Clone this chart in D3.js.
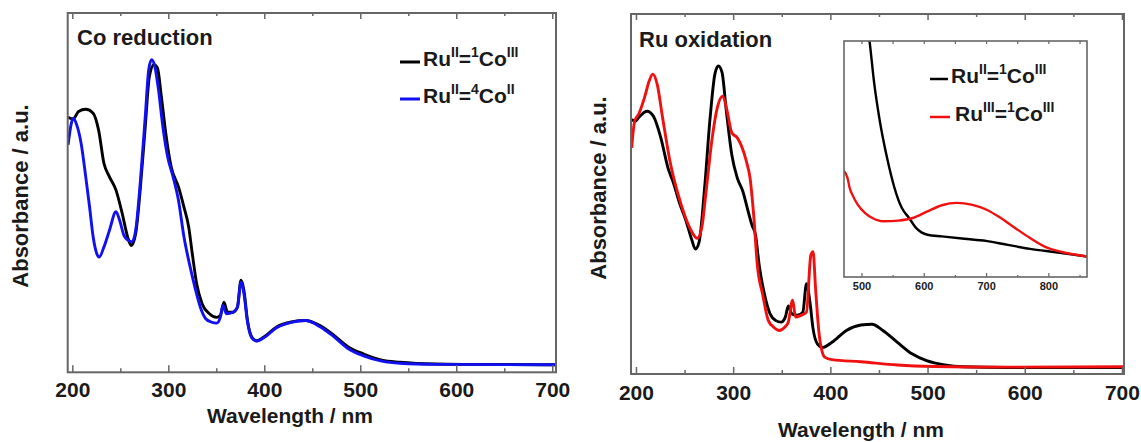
<!DOCTYPE html>
<html>
<head>
<meta charset="utf-8">
<script src="https://cdn.jsdelivr.net/npm/d3@7"></script>
<style>
  body { margin: 0; background: #fff; }
  svg { display: block; font-family: "Liberation Sans", Arial, sans-serif; font-weight: bold; }
</style>
</head>
<body>
<svg id="chart" width="1141" height="442"></svg>
<script>
// absorbance (a.u., normalised to frame height) vs wavelength (nm)
var coBlack = [[195.6,0.710],[200.9,0.705],[206.5,0.726],[214,0.732],[221.7,0.721],[227.4,0.674],[233,0.581],[238.7,0.544],[245.5,0.507],[252,0.442],[257.6,0.377],[261.4,0.353],[266,0.386],[271,0.516],[276,0.684],[280.3,0.823],[285,0.856],[288.7,0.847],[292.8,0.767],[297.4,0.665],[303,0.572],[310.6,0.516],[316.3,0.460],[321.2,0.405],[325,0.330],[329.5,0.247],[335.2,0.191],[342.8,0.163],[350.4,0.153],[354.2,0.158],[358,0.195],[361.7,0.167],[367.4,0.167],[372,0.181],[375.7,0.256],[378.8,0.228],[382.5,0.144],[387,0.098],[392,0.088],[399.5,0.098],[412.8,0.126],[428,0.140],[443,0.144],[458,0.130],[473,0.102],[488,0.070],[503.5,0.051],[522.5,0.034],[541.4,0.028],[579,0.023],[617,0.022],[704,0.021]]
var coBlue = [[195.6,0.633],[199,0.693],[200.9,0.707],[204.7,0.688],[209.2,0.637],[214,0.544],[218,0.460],[221.7,0.377],[225.5,0.330],[228,0.321],[233,0.349],[238.7,0.395],[245.5,0.447],[249.3,0.423],[253.8,0.381],[258.4,0.367],[262.2,0.363],[266,0.395],[271,0.535],[276,0.712],[279.6,0.842],[282.6,0.870],[286,0.851],[289.8,0.786],[294.3,0.684],[299.3,0.600],[305,0.544],[310.6,0.479],[316.3,0.377],[322,0.302],[327.7,0.237],[333.4,0.181],[339,0.149],[344.7,0.140],[350.4,0.137],[354.2,0.153],[356.8,0.186],[360.6,0.163],[367.4,0.167],[372,0.181],[375.7,0.251],[378.8,0.219],[382.5,0.140],[387,0.096],[392,0.087],[399.5,0.096],[412.8,0.124],[428,0.139],[443,0.144],[458,0.127],[473,0.098],[488,0.065],[503.5,0.046],[522.5,0.031],[541.4,0.025],[579,0.022],[704,0.021]]

var ruBlack = [[195.6,0.707],[199.4,0.702],[203,0.713],[211.4,0.730],[218,0.716],[225.6,0.656],[233,0.572],[238.7,0.530],[244.3,0.479],[251.8,0.423],[257.5,0.372],[261.2,0.347],[265,0.367],[270.6,0.516],[276.3,0.712],[281.2,0.833],[284.8,0.856],[288.6,0.837],[293,0.730],[298.6,0.609],[304.3,0.544],[310,0.507],[315.5,0.451],[319.3,0.414],[323,0.386],[326.8,0.302],[332.4,0.219],[338,0.167],[343.6,0.149],[349.3,0.144],[353.7,0.158],[356.7,0.189],[360.5,0.167],[366,0.163],[371.7,0.172],[375.4,0.251],[379,0.200],[382.2,0.126],[386.6,0.084],[392.2,0.074],[401.6,0.088],[416.5,0.121],[431.5,0.136],[442.8,0.138],[454,0.121],[469,0.088],[484,0.056],[499,0.037],[517.7,0.025],[536.5,0.020],[581,0.018],[702,0.018]]
var ruRed = [[195.6,0.628],[198.6,0.702],[203,0.723],[208.7,0.767],[213.6,0.814],[217.3,0.833],[221.8,0.805],[227.4,0.712],[235,0.591],[242.5,0.507],[250,0.442],[257.5,0.395],[263,0.377],[267.6,0.405],[272.5,0.516],[278,0.647],[283.7,0.740],[289.3,0.772],[293.8,0.730],[298.6,0.670],[304.3,0.656],[308,0.637],[313.6,0.591],[317.4,0.544],[321.1,0.442],[324.9,0.302],[330.5,0.219],[336.1,0.149],[341.7,0.130],[347.4,0.121],[353,0.130],[356.7,0.144],[361.2,0.205],[364.2,0.158],[369.8,0.163],[375.4,0.172],[379.9,0.330],[382.2,0.340],[384.8,0.237],[388.6,0.107],[394.2,0.047],[401.6,0.040],[431.5,0.034],[469,0.025],[506.5,0.021],[581,0.019],[702,0.020]]

// inset (zoom 472-862 nm)
var insetBlack = [[503,1.25],[508,1.10],[513,1.0],[520.6,0.818],[529.4,0.662],[541,0.506],[553,0.378],[564.7,0.293],[576.5,0.250],[588,0.207],[606,0.179],[629,0.172],[665,0.162],[700,0.153],[735,0.136],[770.6,0.119],[812,0.105],[862,0.087]]
var insetRed = [[472,0.449],[477.6,0.420],[481,0.378],[485.3,0.349],[494,0.307],[506,0.271],[517.6,0.250],[535,0.236],[559,0.239],[582.4,0.250],[606,0.278],[629,0.304],[653,0.314],[676.5,0.307],[700,0.286],[723.5,0.250],[747,0.207],[770.6,0.165],[794,0.129],[823.5,0.105],[862,0.087]]

var mainTicks = [200, 300, 400, 500, 600, 700]
var minorTicks = [250, 350, 450, 550, 650]
var insetTicks = [500, 600, 700, 800]
var insetMinor = [550, 650, 750, 850]

var svg = d3.select("#chart")
var lineCol = "#666"
var txtCol = "#1a1a1a"

function legendText(g, x, y, ruSup, spin, coSup) {
    var t = g.append("text").attr("x", x).attr("y", y)
        .attr("font-size", 21).attr("fill", txtCol)
    t.append("tspan").text("Ru")
    t.append("tspan").attr("font-size", 14).attr("dy", -9).text(ruSup)
    t.append("tspan").attr("dy", 9).text("=")
    t.append("tspan").attr("font-size", 14).attr("dy", -9).text(spin)
    t.append("tspan").attr("dy", 9).text("Co")
    t.append("tspan").attr("font-size", 14).attr("dy", -9).text(coSup)
}

function panel(p) {
    var g = svg.append("g")
    var x = d3.scaleLinear().domain(p.xdom).range([p.left, p.right])
    var y = d3.scaleLinear().domain([0, 1]).range([p.bottom, p.top])

    var id = "clip" + p.name
    svg.append("clipPath").attr("id", id).append("rect")
        .attr("x", p.left).attr("y", p.top).attr("width", p.right - p.left).attr("height", p.bottom - p.top)

    var line = d3.line().x(d => x(d[0])).y(d => y(d[1])).curve(d3.curveMonotoneX)
    p.series.forEach(function (s) {
        g.append("path").datum(s.data)
            .attr("clip-path", "url(#" + id + ")")
            .attr("d", line)
            .attr("fill", "none")
            .attr("stroke", s.color)
            .attr("stroke-width", 2.9)
            .attr("stroke-linejoin", "round")
    })

    // axes: bottom with labels, top ticks only
    g.append("g").attr("transform", `translate(0,${p.bottom})`)
        .call(d3.axisBottom(x).tickValues(mainTicks).tickFormat(d3.format("d")).tickSizeInner(-7).tickSizeOuter(0).tickPadding(p.pad))
        .call(a => a.select(".domain").remove())
        .call(a => a.selectAll("line").attr("stroke", lineCol).attr("stroke-width", 1.5))
        .call(a => a.selectAll("text").attr("font-size", 21).attr("font-family", "Liberation Sans, Arial").attr("font-weight", "bold").attr("fill", txtCol))
    g.append("g").attr("transform", `translate(0,${p.bottom})`)
        .call(d3.axisBottom(x).tickValues(minorTicks).tickFormat("").tickSizeInner(-4).tickSizeOuter(0))
        .call(a => a.select(".domain").remove())
        .call(a => a.selectAll("line").attr("stroke", lineCol).attr("stroke-width", 1.5))
    g.append("g").attr("transform", `translate(0,${p.top})`)
        .call(d3.axisTop(x).tickValues(mainTicks).tickFormat("").tickSizeInner(-6).tickSizeOuter(0))
        .call(a => a.select(".domain").remove())
        .call(a => a.selectAll("line").attr("stroke", lineCol).attr("stroke-width", 1.5))
    g.append("g").attr("transform", `translate(0,${p.top})`)
        .call(d3.axisTop(x).tickValues(minorTicks).tickFormat("").tickSizeInner(-3).tickSizeOuter(0))
        .call(a => a.select(".domain").remove())
        .call(a => a.selectAll("line").attr("stroke", lineCol).attr("stroke-width", 1.5))

    g.append("rect").attr("x", p.left).attr("y", p.top)
        .attr("width", p.right - p.left).attr("height", p.bottom - p.top)
        .attr("fill", "none").attr("stroke", lineCol).attr("stroke-width", 2)

    g.append("text").attr("x", p.xlabX).attr("y", p.xlabY)
        .attr("text-anchor", "middle").attr("font-size", 21).attr("fill", txtCol)
        .text("Wavelength / nm")
    g.append("text").attr("transform", `translate(${p.ylabX},${p.ylabY}) rotate(-90)`)
        .attr("text-anchor", "middle").attr("font-size", 22).attr("fill", txtCol)
        .text("Absorbance / a.u.")
    g.append("text").attr("x", p.titleX).attr("y", p.titleY)
        .attr("font-size", 22).attr("fill", txtCol).text(p.title)
    return g
}

var left = panel({
    name: "L", xdom: [195.2, 703.9], left: 67.7, right: 556, top: 13, bottom: 372.3, pad: 10,
    series: [{data: coBlack, color: "#000"}, {data: coBlue, color: "#1010f0"}],
    xlabX: 290, xlabY: 423, ylabX: 28, ylabY: 196,
    title: "Co reduction", titleX: 77, titleY: 45
})
left.append("line").attr("x1", 400).attr("x2", 420).attr("y1", 62).attr("y2", 62).attr("stroke", "#000").attr("stroke-width", 3)
legendText(left, 423, 66, "II", "1", "III")
left.append("line").attr("x1", 400).attr("x2", 420).attr("y1", 99).attr("y2", 99).attr("stroke", "#1010f0").attr("stroke-width", 3)
legendText(left, 423, 103, "II", "4", "II")

var right = panel({
    name: "R", xdom: [194.9, 702.1], left: 631, right: 1124, top: 14, bottom: 374, pad: 11,
    series: [{data: ruBlack, color: "#000"}, {data: ruRed, color: "#f01010"}],
    xlabX: 861, xlabY: 437, ylabX: 606, ylabY: 188,
    title: "Ru oxidation", titleX: 639, titleY: 47
})

// inset
var ins = {left: 844, right: 1087, top: 41, bottom: 277}
var xi = d3.scaleLinear().domain([472, 862]).range([ins.left, ins.right])
var yi = d3.scaleLinear().domain([0, 1]).range([ins.bottom, ins.top])
var gi = svg.append("g")
gi.append("rect").attr("x", ins.left).attr("y", ins.top).attr("width", ins.right - ins.left).attr("height", ins.bottom - ins.top).attr("fill", "#fff")
svg.append("clipPath").attr("id", "clipI").append("rect")
    .attr("x", ins.left).attr("y", ins.top).attr("width", ins.right - ins.left).attr("height", ins.bottom - ins.top)
var li = d3.line().x(d => xi(d[0])).y(d => yi(d[1])).curve(d3.curveMonotoneX)
;[[insetBlack, "#000"], [insetRed, "#f01010"]].forEach(function (s) {
    gi.append("path").datum(s[0]).attr("clip-path", "url(#clipI)").attr("d", li)
        .attr("fill", "none").attr("stroke", s[1]).attr("stroke-width", 2.4)
})
gi.append("g").attr("transform", `translate(0,${ins.bottom})`)
    .call(d3.axisBottom(xi).tickValues(insetTicks).tickFormat(d3.format("d")).tickSizeInner(-4).tickSizeOuter(0).tickPadding(5))
    .call(a => a.select(".domain").remove())
    .call(a => a.selectAll("line").attr("stroke", lineCol).attr("stroke-width", 1.2))
    .call(a => a.selectAll("text").attr("font-size", 11).attr("font-family", "Liberation Sans, Arial").attr("font-weight", "bold").attr("fill", txtCol))
gi.append("g").attr("transform", `translate(0,${ins.bottom})`)
    .call(d3.axisBottom(xi).tickValues(insetMinor).tickFormat("").tickSizeInner(-2).tickSizeOuter(0))
    .call(a => a.select(".domain").remove())
    .call(a => a.selectAll("line").attr("stroke", lineCol).attr("stroke-width", 1.2))
gi.append("g").attr("transform", `translate(0,${ins.top})`)
    .call(d3.axisTop(xi).tickValues(insetTicks.concat(insetMinor)).tickFormat("").tickSizeInner(-3).tickSizeOuter(0))
    .call(a => a.select(".domain").remove())
    .call(a => a.selectAll("line").attr("stroke", lineCol).attr("stroke-width", 1.2))
gi.append("rect").attr("x", ins.left).attr("y", ins.top).attr("width", ins.right - ins.left).attr("height", ins.bottom - ins.top)
    .attr("fill", "none").attr("stroke", lineCol).attr("stroke-width", 1.6)

gi.append("line").attr("x1", 930).attr("x2", 948).attr("y1", 79).attr("y2", 79).attr("stroke", "#000").attr("stroke-width", 2.5)
legendText(gi, 951, 83, "II", "1", "III")
gi.append("line").attr("x1", 930).attr("x2", 950).attr("y1", 117).attr("y2", 117).attr("stroke", "#f01010").attr("stroke-width", 2.5)
legendText(gi, 955, 121, "III", "1", "III")
</script>
</body>
</html>
